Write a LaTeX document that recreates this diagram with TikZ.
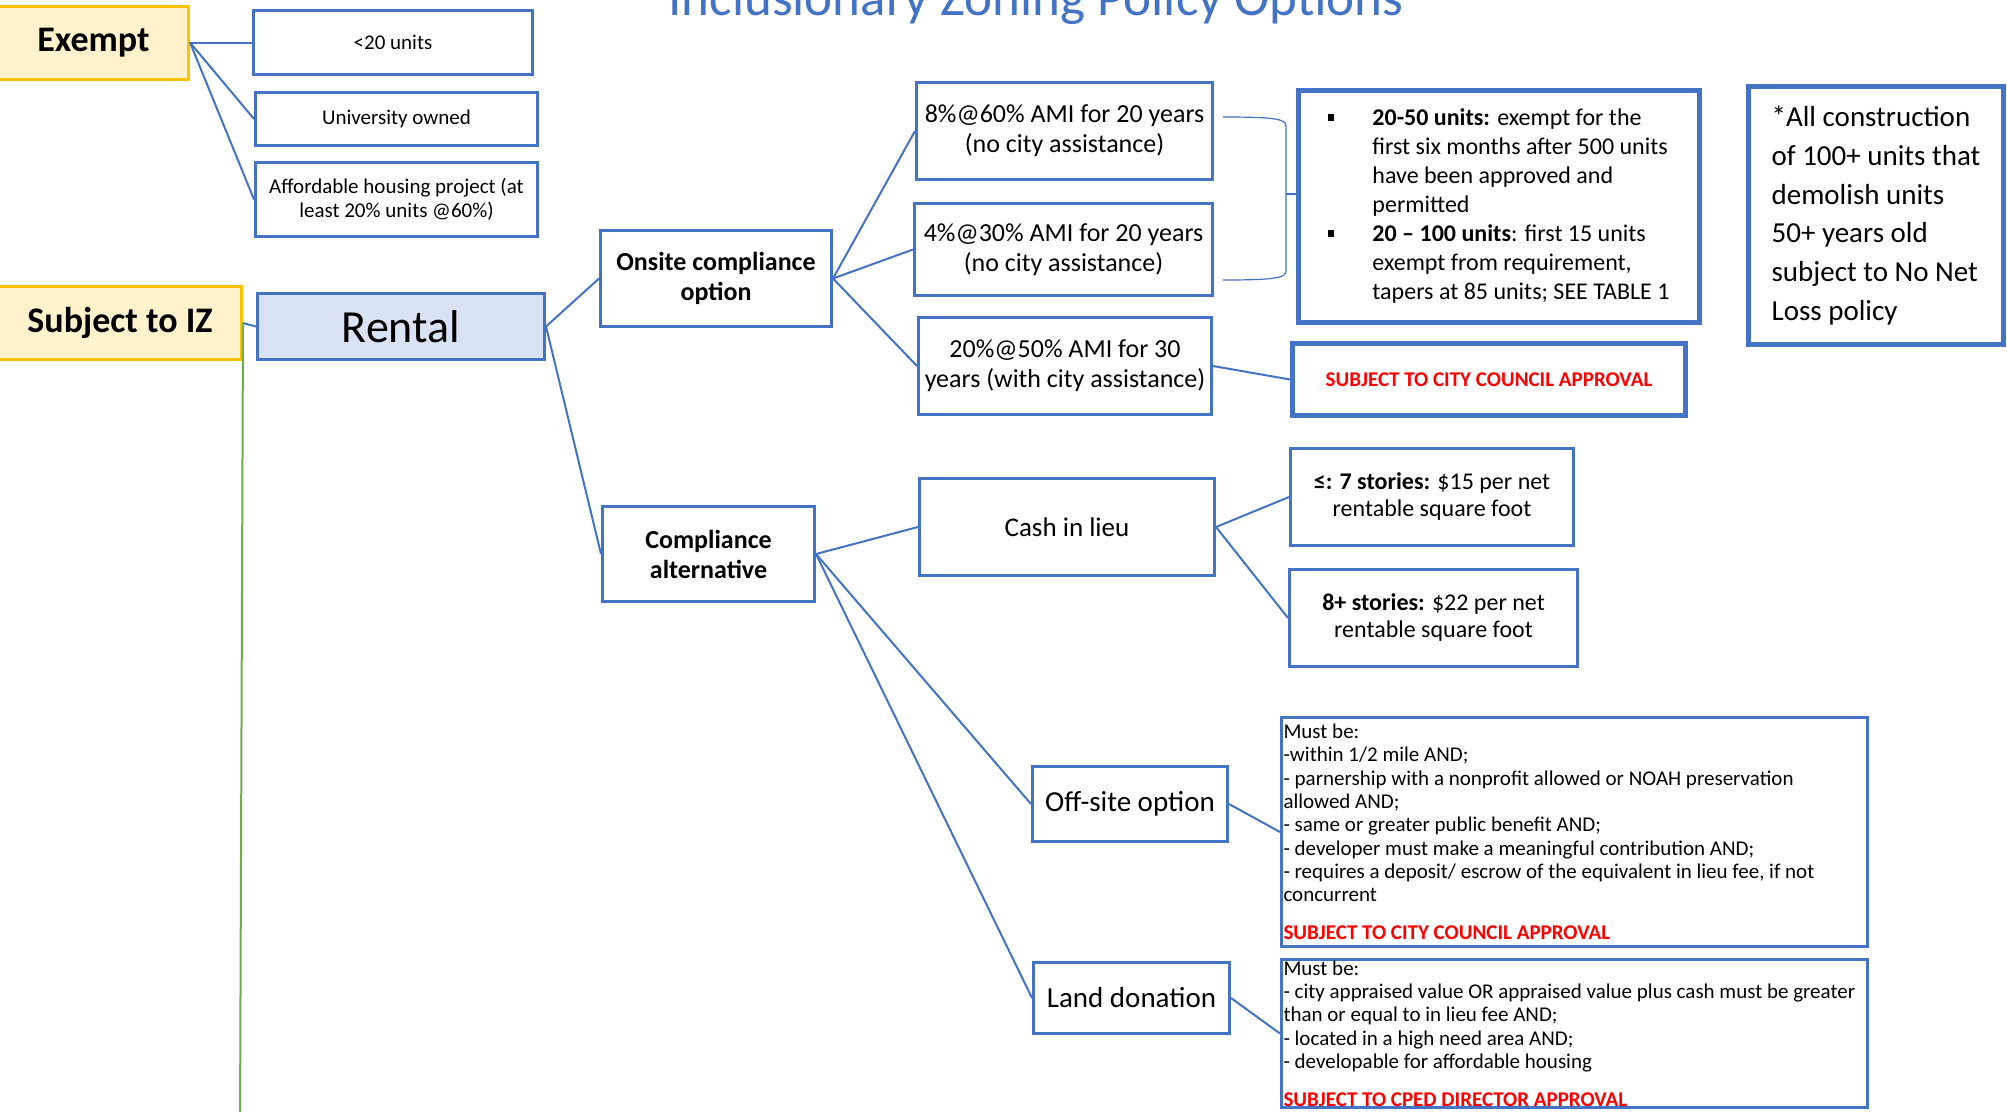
\documentclass[tikz,border=0pt]{standalone}
\usepackage{fontspec}
\setmainfont{Carlito}
\usetikzlibrary{positioning}
\definecolor{izblue}{HTML}{4472C4}
\definecolor{izgold}{HTML}{FFC000}
\definecolor{izcream}{HTML}{FFF2CC}
\definecolor{izpale}{HTML}{DAE3F3}
\definecolor{izgreen}{HTML}{70AD47}
\definecolor{izred}{HTML}{FF0000}
\newcommand{\izbullet}{\makebox[44pt][l]{\rule[5pt]{6pt}{7pt}}}
\newcommand{\izgap}{\hspace*{44pt}}
\newcommand{\izplain}{\spaceskip=0pt\xspaceskip=0pt\relax}

\begin{document}
\begin{tikzpicture}[x=1pt, y=-1pt,
  box/.style={draw=izblue, line width=3pt, fill=white, align=center, inner sep=0pt},
  heavy/.style={box, line width=5pt},
  gold/.style={box, draw=izgold, fill=izcream, font=\fontsize{36}{43}\selectfont\bfseries},
  small/.style={font=\fontsize{21}{23.5}\selectfont},
  mid/.style={font=\fontsize{26}{30}\selectfont},
  midbold/.style={font=\fontsize{26}{30}\selectfont\bfseries},
  rules/.style={box, align=left, text width=582pt, inner xsep=2pt, font=\fontsize{21}{23.3}\selectfont},
  link/.style={draw=izblue, line width=2pt},
  brace/.style={draw=izblue, line width=1.2pt}]
\useasboundingbox (0,0) rectangle (2007,1111);
\clip (0,0) rectangle (2007,1111);
\fill[white] (0,0) rectangle (2007,1111);

\node[text=izblue, font=\fontsize{53}{60}\selectfont, anchor=base] (title) at (1036,15) {Inclusionary Zoning Policy Options};

% exempt side
\node[gold, minimum width=190pt, minimum height=73pt] (exempt) at (93.5,42.5) {Exempt};
\node[box, small, minimum width=279pt, minimum height=64pt] (units) at (393,42.5) {<20 units};
\node[box, small, minimum width=282pt, minimum height=53pt] (univ) at (396.5,119) {University owned};
\node[box, small, minimum width=282pt, minimum height=74pt] (afford) at (396.5,199.5) {Affordable housing project (at\\least 20\% units @60\%)};

% subject to IZ
\node[gold, minimum width=243pt, minimum height=73pt] (subjiz) at (120,323) {Subject to IZ};
\node[box, fill=izpale, font=\fontsize{46}{52}\selectfont, minimum width=287pt, minimum height=66pt] (rental) at (401,326.5) {Rental};
\coordinate (izdown) at (240,1130);

% onsite
\node[box, midbold, minimum width=231pt, minimum height=96pt] (onsite) at (716,278.5) {Onsite compliance\\option};
\node[box, mid, minimum width=296pt, minimum height=97pt] (pcta) at (1064.5,131) {8\%@60\% AMI for 20 years\\(no city assistance)};
\node[box, mid, minimum width=298pt, minimum height=92pt] (pctb) at (1063.5,249.5) {4\%@30\% AMI for 20 years\\(no city assistance)};
\node[box, mid, minimum width=293pt, minimum height=97pt] (pctc) at (1065,366) {20\%@50\% AMI for 30\\years (with city assistance)};
\node[heavy, align=left, minimum width=401pt, minimum height=232pt,
  font=\fontsize{24}{29}\selectfont] (phasein) at (1499,206.5)
  {\izbullet\textbf{20-50 units:} exempt for the\\
   \izgap first six months after 500 units\\
   \izgap have been approved and\\
   \izgap permitted\\
   \izbullet\textbf{20 -- 100 units}: first 15 units\\
   \izgap exempt from requirement,\\
   \izgap tapers at 85 units; SEE TABLE 1};
\node[heavy, font=\fontsize{21}{25}\selectfont\bfseries, text=izred, minimum width=393pt, minimum height=72pt] (council) at (1489,379.5) {SUBJECT TO CITY COUNCIL APPROVAL};
\node[heavy, align=left, minimum width=255pt, minimum height=258pt,
  font=\fontsize{29}{38.7}\selectfont] (nonetloss) at (1876,215.5)
  {*All construction\\of 100+ units that\\demolish units\\50+ years old\\subject to No Net\\Loss policy};

% compliance alternative
\node[box, midbold, minimum width=212pt, minimum height=95pt] (altern) at (708.5,554) {Compliance\\alternative};
\node[box, font=\fontsize{27}{31}\selectfont, minimum width=295pt, minimum height=97pt] (cash) at (1067,527) {Cash in lieu};
\node[box, font=\fontsize{24}{27}\selectfont, minimum width=283pt, minimum height=97pt] (lowrise) at (1432,497) {\textbf{≤: 7 stories:} \$15 per net\\rentable square foot};
\node[box, font=\fontsize{24}{27}\selectfont, minimum width=288pt, minimum height=97pt] (highrise) at (1433.5,618) {\textbf{8+ stories:} \$22 per net\\rentable square foot};
\node[box, font=\fontsize{29}{33}\selectfont, minimum width=195pt, minimum height=75pt] (offsite) at (1130,804) {Off-site option};
\node[box, font=\fontsize{29}{33}\selectfont, minimum width=196pt, minimum height=71pt] (land) at (1131.5,998) {Land donation};
\node[rules, minimum height=229pt] (offrules) at (1574.5,832)
  {\izplain Must be:\\
   -within 1/2 mile AND;\\
   - parnership with a nonprofit allowed or NOAH preservation\\
   allowed AND;\\
   - same or greater public benefit AND;\\
   - developer must make a meaningful contribution AND;\\
   - requires a deposit/ escrow of the equivalent in lieu fee, if not\\
   concurrent\\[14.7pt]
   {\color{izred}\bfseries SUBJECT TO CITY COUNCIL APPROVAL}};
\node[rules, minimum height=148pt] (landrules) at (1574.5,1033.5)
  {\izplain Must be:\\
   - city appraised value OR appraised value plus cash must be greater\\
   than or equal to in lieu fee AND;\\
   - located in a high need area AND;\\
   - developable for affordable housing\\[14.7pt]
   {\color{izred}\bfseries SUBJECT TO CPED DIRECTOR APPROVAL}};

% connectors
\draw[link] (exempt.east) -- (units.west);
\draw[link] (exempt.east) -- (univ.west);
\draw[link] (exempt.east) -- (afford.west);
\draw[link] (subjiz.east) -- (rental.west);
\draw[izgreen, line width=2pt] (subjiz.east) -- (izdown);
\draw[link] (rental.east) -- (onsite.west);
\draw[link] (rental.east) -- (altern.west);
\foreach \k in {pcta,pctb,pctc}
  \draw[link] (onsite.east) -- (\k.west);
\draw[link] (pctc.east) -- (council.west);
\foreach \k in {cash,offsite,land}
  \draw[link] (altern.east) -- (\k.west);
\foreach \k in {lowrise,highrise}
  \draw[link] (cash.east) -- (\k.west);
\draw[link] (offsite.east) -- (offrules.west);
\draw[link] (land.east) -- (landrules.west);

% bracket
\coordinate (brtop) at (1223,117);
\coordinate (brbot) at (1223,280);
\coordinate (brmid) at (1286,194);
\draw[brace] (brtop) .. controls (1275,117) and (1286,119) .. (1286,126) -- (1286,271) .. controls (1286,278) and (1275,280) .. (brbot);
\draw[brace] (brmid) -- (brmid -| phasein.west);
\end{tikzpicture}
\end{document}
